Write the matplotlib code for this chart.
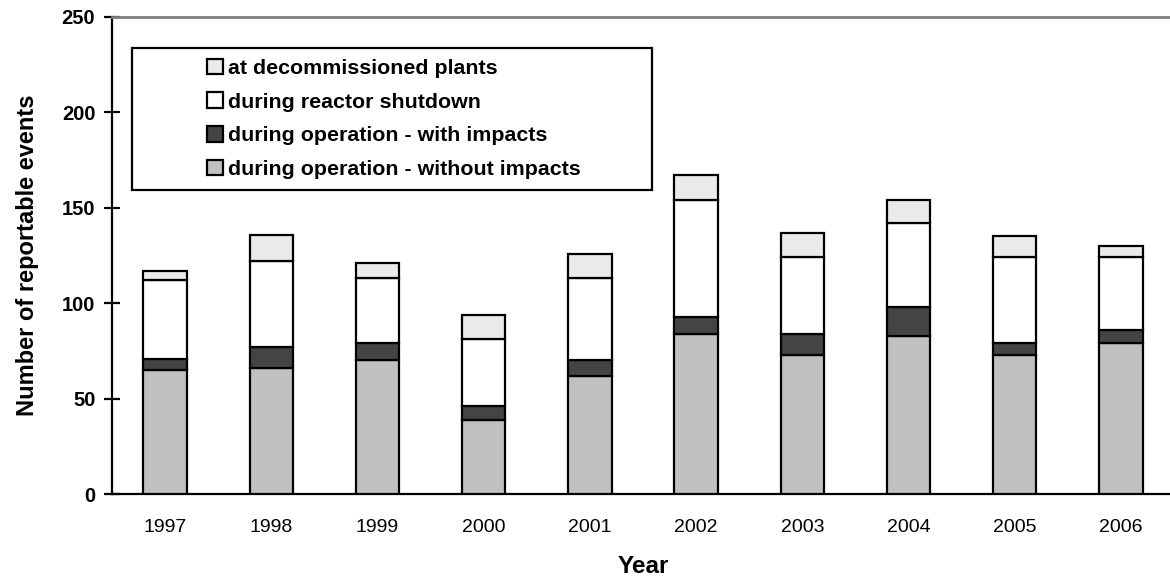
import matplotlib
matplotlib.use("Agg")
import matplotlib.pyplot as plt
from matplotlib.patches import Rectangle
import numpy as np

plt.rcParams['font.family'] = ['Liberation Sans', 'DejaVu Sans']

years = ['1997', '1998', '1999', '2000', '2001', '2002', '2003', '2004', '2005', '2006']
without_impacts = [65, 66, 70, 39, 62, 84, 73, 83, 73, 79]
with_impacts = [6, 11, 9, 7, 8, 9, 11, 15, 6, 7]
reactor_shutdown = [41, 45, 34, 35, 43, 61, 40, 44, 45, 38]
decommissioned = [5, 14, 8, 13, 13, 13, 13, 12, 11, 6]

series = [
    (without_impacts, '#c0c0c0', 'during operation - without impacts'),
    (with_impacts, '#444444', 'during operation - with impacts'),
    (reactor_shutdown, '#ffffff', 'during reactor shutdown'),
    (decommissioned, '#eaeaea', 'at decommissioned plants'),
]

fig = plt.figure(figsize=(11.7, 5.83), dpi=100)
ax = fig.add_axes([112 / 1170, 1 - 494 / 583, 1062 / 1170, 477 / 583])

x = np.arange(len(years))
bottom = np.zeros(len(years))
handles = []
for values, color, label in series:
    b = ax.bar(x, values, width=0.41, bottom=bottom, color=color,
               edgecolor='black', linewidth=1.6, label=label, zorder=3)
    handles.append(b)
    bottom += np.array(values)

ax.set_xlim(-0.5, len(years) - 0.5)
ax.set_ylim(0, 250)
ax.set_yticks([0, 50, 100, 150, 200, 250])
ax.set_xticks(x)
ax.set_xticklabels(years, fontsize=14)
ax.tick_params(axis='x', length=0, pad=18)
ax.tick_params(axis='y', direction='inout', length=12, width=1.6, labelsize=14.5, pad=6)
for lbl in ax.get_yticklabels():
    lbl.set_fontweight('bold')

ax.spines['right'].set_visible(False)
ax.spines['top'].set_color('#808080')
ax.spines['top'].set_linewidth(2)
ax.spines['left'].set_linewidth(1.6)
ax.spines['bottom'].set_linewidth(1.6)

ax.set_xlabel('Year', fontsize=17.5, fontweight='bold', labelpad=14)
ax.set_ylabel('Number of reportable events', fontsize=17, fontweight='bold', labelpad=16)

# legend frame drawn by hand, legend itself frameless inside it
fig.patches.append(Rectangle((132 / 1170, 1 - 190 / 583), 520 / 1170, 142 / 583,
                             transform=fig.transFigure, facecolor='white',
                             edgecolor='black', linewidth=1.6, zorder=5))
leg = fig.legend(handles[::-1], [s[2] for s in series[::-1]],
                 loc='upper left', bbox_to_anchor=(188 / 1170, 1 - 39.5 / 583),
                 frameon=False, prop={'size': 15.4, 'weight': 'bold'},
                 handlelength=0.75, handleheight=0.75, handletextpad=0.23,
                 labelspacing=0.67)
leg.set_zorder(6)

fig.savefig('out.png', dpi=100)
